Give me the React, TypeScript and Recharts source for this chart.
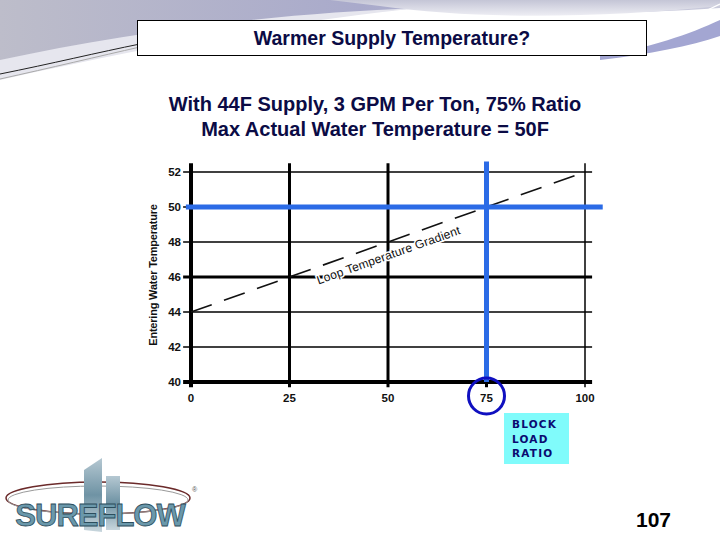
import {
    LineChart,
    Line,
    XAxis,
    YAxis,
    ReferenceLine,
    ReferenceDot,
} from "recharts"

// block load ratio (%) gridlines and entering water temperature (F) gridlines
const xTicks = [0, 25, 50, 75, 100]
const yTicks = [40, 42, 44, 46, 48, 50, 52]

// loop temperature gradient: 44F at 0% up to 52F at 100%
const gradientRatio = [0, 100]
const gradientTemp = [44, 52]

// the picked operating point
const blockRatio = 75
const maxTemp = 50

const xGridWidth: Record<number, number> = { 0: 4, 25: 3, 50: 3, 75: 3, 100: 1.5 }
const yGridWidth: Record<number, number> = { 40: 4, 42: 1.5, 44: 1.5, 46: 3, 48: 1.5, 50: 1.5, 52: 1.5 }

const FONT = "'Liberation Sans', Arial, sans-serif"
const NAVY = "#0b0b45"
const BLUE = "#2b6be6"

const chartData = gradientRatio.map((x, i) => ({ x, temp: gradientTemp[i] }))

function Backdrop() {
    return (
        <svg width={720} height={540} style={{ position: "absolute", left: 0, top: 0 }}>
            <defs>
                <linearGradient id="swoosh" x1="0" y1="0" x2="1" y2="0">
                    <stop offset="0" stopColor="#bdbdca" />
                    <stop offset="0.5" stopColor="#a9aacb" />
                    <stop offset="1" stopColor="#c9cadb" />
                </linearGradient>
                <linearGradient id="topfade" x1="0" y1="0" x2="0" y2="1">
                    <stop offset="0" stopColor="#c4c5d6" />
                    <stop offset="1" stopColor="#eeeef4" />
                </linearGradient>
                <linearGradient id="logo" x1="0" y1="0" x2="0" y2="1">
                    <stop offset="0" stopColor="#b5c8d2" />
                    <stop offset="0.5" stopColor="#6f93a4" />
                    <stop offset="1" stopColor="#c8d6dd" />
                </linearGradient>
            </defs>
            <path d="M0,0 H720 V8 C640,14 520,14 420,8 C300,16 160,42 0,76 Z" fill="url(#swoosh)" />
            <path d="M0,60 C120,34 260,14 420,8 C300,20 160,44 0,80 Z" fill="#e6e6ee" />
            <path d="M330,0 H720 V6 C600,18 480,20 380,6 Z" fill="url(#topfade)" />
            <path d="M600,56 C650,48 690,34 720,20 V36 C690,46 650,54 600,60 Z" fill="#a3a6d2" />
            <path d="M620,40 C660,30 700,14 720,4" stroke="#ffffff" strokeWidth={1.2} fill="none" />
            <path d="M630,44 C670,34 705,18 720,10" stroke="#ffffff" strokeWidth={1} fill="none" />
            <path d="M0,74 C50,64 100,52 140,44" stroke="#222" strokeWidth={1} fill="none" />
            <path d="M0,79 C50,68 100,56 140,47" stroke="#aaa" strokeWidth={1} fill="none" />

            {/* logo */}
            <ellipse cx={98} cy={498} rx={92} ry={16} fill="none" stroke="#6b2a2a" strokeWidth={1.5} />
            <ellipse cx={98} cy={500} rx={90} ry={14} fill="none" stroke="#999" strokeWidth={1} />
            <path d="M84,470 L102,458 L102,532 L84,530 Z" fill="url(#logo)" />
            <rect x={106} y={476} width={14} height={54} fill="url(#logo)" />
            <text x={100} y={526} textAnchor="middle" fontFamily={FONT} fontWeight="bold" fontSize={31}
                fill="#6a98ab" stroke="#2c4d5c" strokeWidth={0.8} letterSpacing={-1}>
                SUREFLOW
            </text>
            <text x={192} y={492} fontFamily={FONT} fontSize={7} fill="#555">®</text>
        </svg>
    )
}

export default function App() {
    return (
        <div style={{ position: "absolute", left: 0, top: 0, width: 720, height: 540, background: "#fff", overflow: "hidden" }}>
            <Backdrop />

            <div style={{ position: "absolute", left: 0, top: 0 }}>
                <LineChart width={720} height={540} data={chartData}
                    margin={{ top: 172, right: 135, bottom: 128, left: 151 }}>
                    <XAxis dataKey="x" type="number" domain={[0, 100]} ticks={xTicks}
                        axisLine={false} tickLine={false} tickMargin={6} height={30}
                        tick={{ fill: "#111", fontSize: 11.5, fontWeight: "bold", fontFamily: FONT }} />
                    <YAxis type="number" domain={[40, 52]} ticks={yTicks} width={40}
                        axisLine={false} tickLine={false} tickMargin={4}
                        tick={{ fill: "#111", fontSize: 11.5, fontWeight: "bold", fontFamily: FONT }} />

                    {yTicks.map((t) => (
                        <ReferenceLine key={"h" + t} segment={[{ x: -2, y: t }, { x: 101.8, y: t }]}
                            stroke="#000" strokeWidth={yGridWidth[t]} ifOverflow="visible" />
                    ))}
                    {xTicks.map((t) => (
                        <ReferenceLine key={"v" + t} segment={[{ x: t, y: 52.5 }, { x: t, y: 39.7 }]}
                            stroke="#000" strokeWidth={xGridWidth[t]} ifOverflow="visible" />
                    ))}

                    <Line dataKey="temp" stroke="#111" strokeWidth={1.6} strokeDasharray="22 13"
                        dot={false} activeDot={false} isAnimationActive={false} />

                    <ReferenceLine segment={[{ x: -1.3, y: maxTemp }, { x: 104.5, y: maxTemp }]}
                        stroke={BLUE} strokeWidth={5} ifOverflow="visible" />
                    <ReferenceLine segment={[{ x: blockRatio, y: 52.6 }, { x: blockRatio, y: 40 }]}
                        stroke={BLUE} strokeWidth={5} ifOverflow="visible" />
                    <ReferenceDot x={blockRatio} y={39.2} r={18} fill="none" stroke="#1010c0"
                        strokeWidth={3} ifOverflow="visible" />
                </LineChart>
            </div>

            <svg width={720} height={540} style={{ position: "absolute", left: 0, top: 0, pointerEvents: "none" }}>
                <text x={157} y={275} transform="rotate(-90 157 275)" textAnchor="middle"
                    fontFamily={FONT} fontWeight="bold" fontSize={11} fill="#111" letterSpacing={-0.2}>
                    Entering Water Temperature
                </text>
                <text x={390} y={259} transform="rotate(-19.6 390 259)" textAnchor="middle"
                    fontFamily={FONT} fontSize={12} fill="#111" stroke="#fff" strokeWidth={3}
                    paintOrder="stroke" letterSpacing={0.2}>
                    Loop Temperature Gradient
                </text>
            </svg>

            <div style={{
                position: "absolute", left: 137, top: 20, width: 508, height: 34,
                border: "1px solid #000", background: "#fff", color: NAVY,
                fontFamily: FONT, fontWeight: "bold", fontSize: 19.5, lineHeight: "34px", textAlign: "center",
            }}>
                Warmer Supply Temperature?
            </div>

            <div style={{
                position: "absolute", left: 125, top: 92, width: 500, textAlign: "center",
                fontFamily: FONT, fontWeight: "bold", fontSize: 20, lineHeight: "25px", color: NAVY,
            }}>
                With 44F Supply, 3 GPM Per Ton, 75% Ratio
                <br />
                Max Actual Water Temperature = 50F
            </div>

            <div style={{
                position: "absolute", left: 504, top: 413, width: 65, height: 51, background: "#80fbfb",
                boxSizing: "border-box", padding: "4px 0 0 8px", color: "#0a0a70",
                fontFamily: "'DejaVu Sans', sans-serif", fontWeight: "bold", fontSize: 10.5,
                lineHeight: "14.5px", letterSpacing: 1.2,
            }}>
                BLOCK<br />LOAD<br />RATIO
            </div>

            <div style={{
                position: "absolute", left: 636, top: 508, fontFamily: FONT, fontWeight: "bold",
                fontSize: 21, color: "#000",
            }}>
                107
            </div>
        </div>
    )
}
